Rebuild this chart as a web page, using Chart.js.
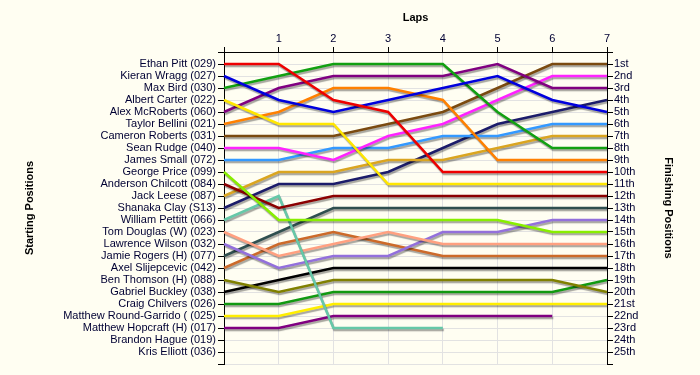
<!DOCTYPE html>
<html>
<head>
<meta charset="utf-8">
<script src="https://cdn.jsdelivr.net/npm/chart.js@4"></script>
<style>
  body { margin: 0; background: #fffef2; }
  #wrap { width: 700px; height: 375px; }
</style>
</head>
<body>
<div id="wrap"><canvas id="grafico"></canvas></div>
<script>
// vueltas (eje superior)
const laps = ['', '1', '2', '3', '4', '5', '6', '7'];

// pilotos en orden de salida
const drivers = [
  'Ethan Pitt (029)', 'Kieran Wragg (027)', 'Max Bird (030)', 'Albert Carter (022)',
  'Alex McRoberts (060)', 'Taylor Bellini (021)', 'Cameron Roberts (031)', 'Sean Rudge (040)',
  'James Small (072)', 'George Price (099)', 'Anderson Chilcott (084)', 'Jack Leese (087)',
  'Shanaka Clay (S13)', 'William Pettitt (066)', 'Tom Douglas (W) (023)', 'Lawrence Wilson (032)',
  'Jamie Rogers (H) (077)', 'Axel Slijepcevic (042)', 'Ben Thomson (H) (088)', 'Gabriel Buckley (038)',
  'Craig Chilvers (026)', 'Matthew Round-Garrido ( (025)', 'Matthew Hopcraft (H) (017)',
  'Brandon Hague (019)', 'Kris Elliott (036)'
];

const finishLabels = [
  '1st', '2nd', '3rd', '4th', '5th', '6th', '7th', '8th', '9th', '10th', '11th', '12th', '13th',
  '14th', '15th', '16th', '17th', '18th', '19th', '20th', '21st', '22nd', '23rd', '24th', '25th'
];

// posicion de cada piloto al final de cada vuelta (vuelta 0 = salida)
const positions = [
  [1, 1, 4, 5, 10, 10, 10, 10],
  [2, 4, 5, 4, 3, 2, 4, 5],
  [3, 2, 1, 1, 1, 5, 8, 8],
  [4, 6, 6, 11, 11, 11, 11, 11],
  [5, 3, 2, 2, 2, 1, 3, 3],
  [6, 5, 3, 3, 4, 9, 9, 9],
  [7, 7, 7, 6, 5, 3, 1, 1],
  [8, 8, 9, 7, 6, 4, 2, 2],
  [9, 9, 8, 8, 7, 7, 6, 6],
  [10, 14, 14, 14, 14, 14, 15, 15],
  [11, 13, 12, 12, 12, 12, 12, 12],
  [12, 10, 10, 9, 9, 8, 7, 7],
  [13, 11, 11, 10, 8, 6, 5, 4],
  [14, 12, 23, 23, 23, null, null, null],
  [15, 17, 16, 15, 16, 16, 16, 16],
  [16, 18, 17, 17, 15, 15, 14, 14],
  [17, 15, 13, 13, 13, 13, 13, 13],
  [18, 16, 15, 16, 17, 17, 17, 17],
  [19, 20, 19, 19, 19, 19, 19, 20],
  [20, 19, 18, 18, 18, 18, 18, 18],
  [21, 21, 20, 20, 20, 20, 20, 19],
  [22, 22, 21, 21, 21, 21, 21, 21],
  [23, 23, 22, 22, 22, 22, 22, null],
  [],
  []
];

const colores = [
  '#ee0000', '#0000dd', '#11a011', '#ffe600', '#800080', '#ff8000', '#7a4a10', '#ff22ff',
  '#3399ff', '#88ee00', '#8b0000', '#daa520', '#1c1c6a', '#66c8a8', '#ffa080', '#9370db',
  '#2f4f4f', '#cc6a2a', '#808000', '#000000', '#119911', '#ffee00', '#800080', '#000000', '#000000'
];

const sombra = {
  id: 'sombra',
  beforeDatasetsDraw(chart) {
    const ctx = chart.ctx;
    ctx.save();
    ctx.shadowColor = 'rgba(0,0,0,0.35)';
    ctx.shadowOffsetX = 1;
    ctx.shadowOffsetY = 2;
    ctx.shadowBlur = 1;
  },
  afterDatasetsDraw(chart) {
    chart.ctx.restore();
  }
};

const fuente = { family: 'Arial, "Liberation Sans", sans-serif', size: 11 };
const fuenteTitulo = { family: 'Arial, "Liberation Sans", sans-serif', size: 11, weight: 'bold' };
const colorTexto = '#000033';

const ctx = document.getElementById('grafico').getContext('2d');
const grafico = new Chart(ctx, {
  type: 'line',
  data: {
    labels: laps,
    datasets: drivers.map((d, i) => ({
      label: d,
      data: positions[i],
      borderColor: colores[i],
      backgroundColor: colores[i],
      borderWidth: 2.5,
      pointRadius: 0,
      tension: 0,
      spanGaps: false,
      yAxisID: 'y'
    })).concat([{
      label: 'fin',
      data: [],
      yAxisID: 'y2'
    }])
  },
  options: {
    responsive: true,
    maintainAspectRatio: false,
    animation: false,
    layout: { padding: { left: 0, right: 0, top: 0, bottom: 11 } },
    plugins: {
      legend: { display: false },
      tooltip: { enabled: false }
    },
    scales: {
      x: {
        position: 'top',
        offset: false,
        afterFit: s => { s.height = 52; },
        title: { display: true, text: 'Laps', color: '#000', font: fuenteTitulo, padding: { top: 11, bottom: 7 } },
        grid: { color: '#e2e2e2', tickColor: '#000', tickLength: 5 },
        border: { color: '#000', width: 1 },
        ticks: { color: colorTexto, font: fuente, padding: 1, maxRotation: 0 }
      },
      y: {
        position: 'left',
        reverse: true,
        min: 0,
        max: 26,
        afterFit: s => { s.width = 224; },
        title: { display: true, text: 'Starting Positions', color: '#000', font: fuenteTitulo, padding: { top: 23, bottom: 22 } },
        grid: { color: '#e2e2e2', tickColor: '#000', tickLength: 6 },
        border: { color: '#000', width: 1 },
        ticks: {
          stepSize: 1,
          autoSkip: false,
          color: colorTexto,
          font: fuente,
          padding: 2,
          callback: v => drivers[v - 1] || ''
        }
      },
      y2: {
        position: 'right',
        reverse: true,
        min: 0,
        max: 26,
        afterFit: s => { s.width = 93; },
        title: { display: true, text: 'Finishing Positions', color: '#000', font: fuenteTitulo, padding: { top: 25, bottom: 22 } },
        grid: { drawOnChartArea: false, tickColor: '#000', tickLength: 6 },
        border: { color: '#000', width: 1 },
        ticks: {
          stepSize: 1,
          autoSkip: false,
          color: colorTexto,
          font: fuente,
          padding: 1,
          callback: v => finishLabels[v - 1] || ''
        }
      }
    }
  },
  plugins: [sombra]
});
</script>
</body>
</html>
